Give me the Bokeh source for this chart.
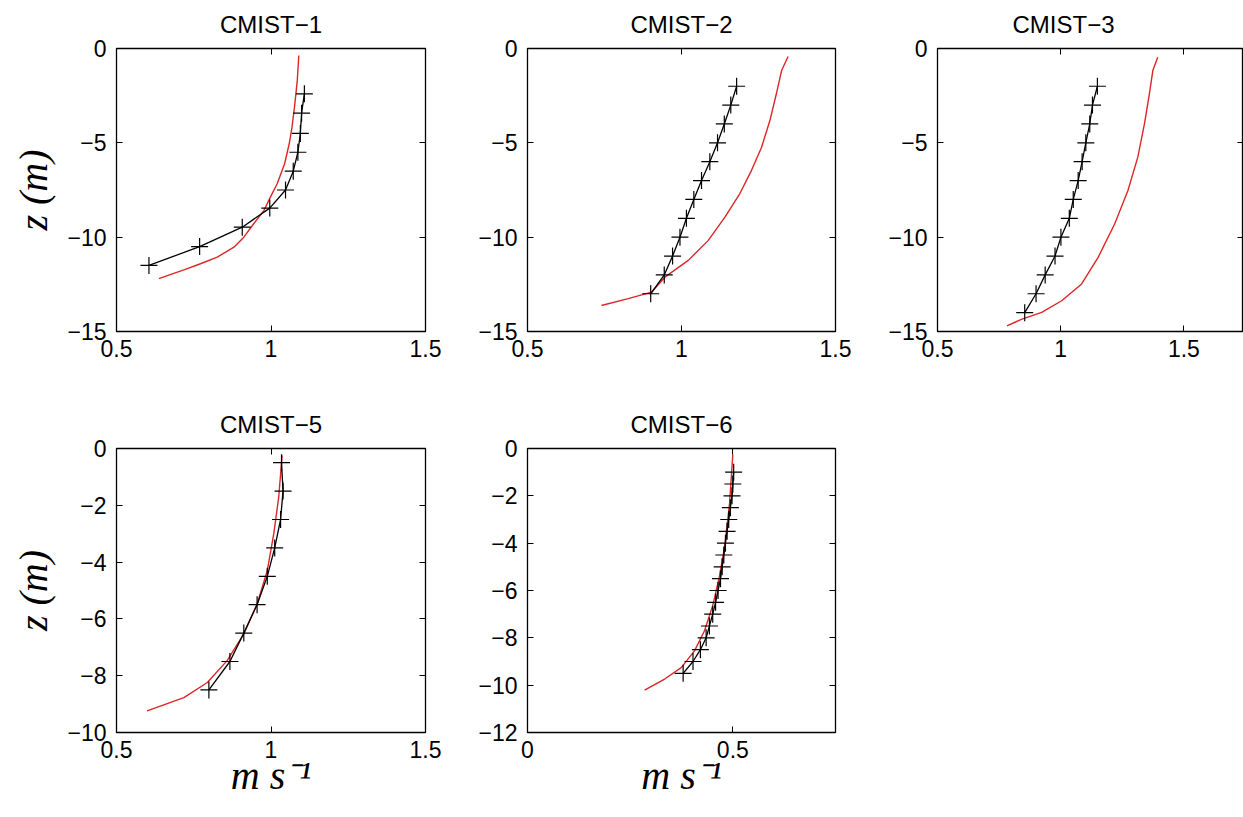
from bokeh.plotting import figure
from bokeh.layouts import column, row
from bokeh.models import Range1d, FixedTicker, LinearAxis
from bokeh.embed import file_html
from bokeh.resources import INLINE

# ---------------- data ----------------
titles = ["CMIST\u22121", "CMIST\u22122", "CMIST\u22123", "CMIST\u22125", "CMIST\u22126"]

# CMIST-1
obs1_u = [1.108, 1.099, 1.095, 1.087, 1.072, 1.047, 0.996, 0.907, 0.769, 0.605]
obs1_z = [-2.4, -3.43, -4.5, -5.5, -6.5, -7.5, -8.46, -9.47, -10.5, -11.5]
mod1_u = [1.090, 1.085, 1.076, 1.068, 1.059, 1.044, 1.020, 0.998, 0.977, 0.944,
          0.912, 0.880, 0.826, 0.772, 0.718, 0.637]
mod1_z = [-0.37, -1.70, -3.11, -4.17, -5.05, -6.11, -7.17, -7.88, -8.59, -9.29,
          -10.0, -10.53, -11.06, -11.41, -11.73, -12.2]

# CMIST-2
obs2_u = [1.179, 1.160, 1.139, 1.117, 1.092, 1.065, 1.040, 1.016, 0.995, 0.971, 0.944, 0.900]
obs2_z = [-2, -3, -4, -5, -6, -7, -8, -9, -10, -11, -12, -13]
mod2_u = [1.346, 1.325, 1.308, 1.287, 1.260, 1.227, 1.189, 1.141, 1.087, 1.022, 0.946, 0.903, 0.827, 0.740]
mod2_z = [-0.42, -1.17, -2.4, -3.82, -5.23, -6.47, -7.7, -8.94, -10.17, -11.23, -12.12, -12.91, -13.26, -13.62]

# CMIST-3
obs3_u = [1.149, 1.129, 1.118, 1.102, 1.087, 1.071, 1.051, 1.035, 1.001, 0.977, 0.937, 0.900, 0.854]
obs3_z = [-2, -3, -4, -5, -6, -7, -8, -9, -10, -11, -12, -13, -14]
mod3_u = [1.394, 1.374, 1.360, 1.340, 1.313, 1.273, 1.219, 1.152, 1.085, 1.004, 0.923, 0.843, 0.782]
mod3_z = [-0.46, -1.17, -2.4, -3.99, -5.76, -7.53, -9.3, -11.07, -12.48, -13.37, -13.99, -14.34, -14.7]

# CMIST-5
obs5_u = [1.034, 1.039, 1.031, 1.012, 0.988, 0.955, 0.912, 0.867, 0.799]
obs5_z = [-0.5, -1.5, -2.5, -3.5, -4.5, -5.5, -6.5, -7.5, -8.5]
mod5_u = [1.036, 1.025, 1.009, 0.988, 0.955, 0.912, 0.858, 0.794, 0.718, 0.599]
mod5_z = [-0.24, -1.71, -3.0, -4.3, -5.47, -6.53, -7.47, -8.24, -8.77, -9.24]

# CMIST-6
obs6_u = [0.502, 0.500, 0.498, 0.494, 0.490, 0.486, 0.482, 0.478, 0.474, 0.470,
          0.464, 0.458, 0.451, 0.443, 0.435, 0.421, 0.403, 0.379]
obs6_z = [-1.0, -1.5, -2.0, -2.5, -3.0, -3.5, -4.0, -4.5, -5.0, -5.5,
          -6.0, -6.5, -7.0, -7.5, -8.0, -8.5, -9.0, -9.5]
mod6_u = [0.500, 0.492, 0.480, 0.467, 0.451, 0.431, 0.407, 0.375, 0.334, 0.285]
mod6_z = [-0.25, -2.33, -4.17, -5.44, -6.64, -7.7, -8.54, -9.25, -9.74, -10.21]

# axis ranges and ticks
x_ranges = [(0.5, 1.5), (0.5, 1.5), (0.5, 1.742), (0.5, 1.5), (0.0, 0.75)]
y_ranges = [(-15, 0), (-15, 0), (-15, 0), (-10, 0), (-12, 0)]
x_ticks = [[0.5, 1, 1.5], [0.5, 1, 1.5], [0.5, 1, 1.5], [0.5, 1, 1.5], [0, 0.5]]
x_tick_labels = [["0.5", "1", "1.5"], ["0.5", "1", "1.5"], ["0.5", "1", "1.5"],
                 ["0.5", "1", "1.5"], ["0", "0.5"]]
y_ticks = [[-15, -10, -5, 0], [-15, -10, -5, 0], [-15, -10, -5, 0],
           [-10, -8, -6, -4, -2, 0], [-12, -10, -8, -6, -4, -2, 0]]
y_tick_labels = [["\u221215", "\u221210", "\u22125", "0"],
                 ["\u221215", "\u221210", "\u22125", "0"],
                 ["\u221215", "\u221210", "\u22125", "0"],
                 ["\u221210", "\u22128", "\u22126", "\u22124", "\u22122", "0"],
                 ["\u221212", "\u221210", "\u22128", "\u22126", "\u22124", "\u22122", "0"]]

obs_u = [obs1_u, obs2_u, obs3_u, obs5_u, obs6_u]
obs_z = [obs1_z, obs2_z, obs3_z, obs5_z, obs6_z]
mod_u = [mod1_u, mod2_u, mod3_u, mod5_u, mod6_u]
mod_z = [mod1_z, mod2_z, mod3_z, mod5_z, mod6_z]

ylabel = "z (m)"
xlabel = "m s\u207b\u00b9"

RED = "#dd2525"
SANS = "Liberation Sans"
SERIF = "Liberation Serif"

# layout geometry (figure width, height, borders)
geom = [
    dict(width=475, height=400, left=116, right=50, top=48, bottom=69),
    dict(width=410, height=400, left=51, right=50, top=48, bottom=69),
    dict(width=358, height=400, left=50, right=0, top=48, bottom=69),
    dict(width=475, height=417, left=116, right=50, top=48, bottom=85),
    dict(width=410, height=417, left=51, right=50, top=48, bottom=85),
]


def make_panel(i):
    g = geom[i]
    p = figure(width=g["width"], height=g["height"], output_backend="svg",
               toolbar_location=None, tools="",
               x_range=Range1d(*x_ranges[i]), y_range=Range1d(*y_ranges[i]),
               min_border_left=g["left"], min_border_right=g["right"],
               min_border_top=g["top"], min_border_bottom=g["bottom"],
               title=titles[i])
    p.title.align = "center"
    p.title.vertical_align = "top"
    p.title.text_font = SANS
    p.title.text_font_style = "normal"
    p.title.text_font_size = "24px"
    p.title.text_color = "black"
    p.title.standoff = 18
    if i == 2:
        p.title.align = "left"
        p.title.offset = 75
    p.grid.visible = False
    p.outline_line_color = "black"
    p.outline_line_width = 1.3
    p.outline_line_alpha = 1.0
    p.background_fill_color = "white"
    p.border_fill_color = "white"

    xt = FixedTicker(ticks=x_ticks[i], minor_ticks=[])
    yt = FixedTicker(ticks=y_ticks[i], minor_ticks=[])

    bottom_ax = p.below[0]
    left_ax = p.left[0]
    bottom_ax.ticker = xt
    bottom_ax.major_label_overrides = {t: l for t, l in zip(x_ticks[i], x_tick_labels[i])}
    left_ax.ticker = yt
    left_ax.major_label_overrides = {t: l for t, l in zip(y_ticks[i], y_tick_labels[i])}
    for ax in (bottom_ax, left_ax):
        ax.major_tick_in = 6
        ax.major_tick_out = 0
        ax.minor_tick_in = 0
        ax.minor_tick_out = 0
        ax.axis_line_color = None
        ax.major_tick_line_color = "black"
        ax.major_label_text_font = SANS
        ax.major_label_text_font_size = "23px"
        ax.major_label_text_color = "black"
    bottom_ax.major_label_standoff = 8
    left_ax.major_label_standoff = 10

    # ticks on the opposite sides (box with inward ticks)
    top_ax = LinearAxis(ticker=xt, major_tick_in=6, major_tick_out=0,
                        minor_tick_in=0, minor_tick_out=0, axis_line_color=None,
                        major_label_text_font_size="0px", major_label_standoff=0,
                        major_label_overrides={t: "" for t in x_ticks[i]})
    right_ax = LinearAxis(ticker=yt, major_tick_in=6, major_tick_out=0,
                          minor_tick_in=0, minor_tick_out=0, axis_line_color=None,
                          major_label_text_font_size="0px", major_label_standoff=0,
                          major_label_overrides={t: "" for t in y_ticks[i]})
    p.add_layout(top_ax, "above")
    p.add_layout(right_ax, "right")

    if i in (0, 3):
        left_ax.axis_label = ylabel
        left_ax.axis_label_text_font = SERIF
        left_ax.axis_label_text_font_style = "italic"
        left_ax.axis_label_text_font_size = "40px"
        left_ax.axis_label_text_color = "black"
        left_ax.axis_label_standoff = 8
    if i in (3, 4):
        bottom_ax.axis_label = xlabel
        bottom_ax.axis_label_text_font = SERIF
        bottom_ax.axis_label_text_font_style = "italic"
        bottom_ax.axis_label_text_font_size = "40px"
        bottom_ax.axis_label_text_color = "black"
        bottom_ax.axis_label_standoff = -8

    p.line(mod_u[i], mod_z[i], line_color=RED, line_width=1.4)
    p.line(obs_u[i], obs_z[i], line_color="black", line_width=1.3)
    p.scatter(obs_u[i], obs_z[i], marker="cross", size=17,
              line_color="black", line_width=1.2)
    return p


panels = [make_panel(i) for i in range(5)]
layout = column(row(panels[0], panels[1], panels[2], spacing=0),
                row(panels[3], panels[4], spacing=0), spacing=0)

open("out.html", "w").write(file_html(layout, INLINE))
